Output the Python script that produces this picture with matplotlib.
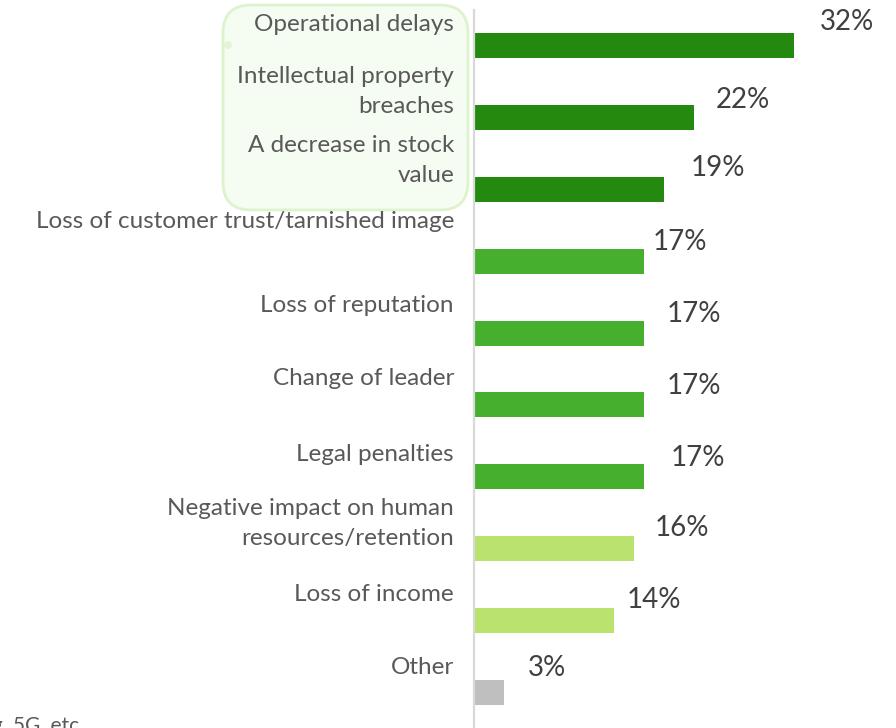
import matplotlib
matplotlib.use("Agg")
import matplotlib.pyplot as plt
from matplotlib.patches import FancyBboxPatch, Circle

# Survey responses: consequences of a cyber incident
categories = [
    "Operational delays",
    "Intellectual property\nbreaches",
    "A decrease in stock\nvalue",
    "Loss of customer trust/tarnished image",
    "Loss of reputation",
    "Change of leader",
    "Legal penalties",
    "Negative impact on human\nresources/retention",
    "Loss of income",
    "Other",
]
values = [32, 22, 19, 17, 17, 17, 17, 16, 14, 3]
value_labels = ["32%", "22%", "19%", "17%", "17%", "17%", "17%", "16%", "14%", "3%"]
groups = ["top", "top", "top", "mid", "mid", "mid", "mid", "low", "low", "other"]

palette = {"top": "#248A0F", "mid": "#46B02E", "low": "#B9E36E", "other": "#BFBFBF"}

# label placement tweaks (pixels)
value_dx = [26, 22, 27, 9, 23, 23, 27, 21, 13, 24]
value_dy = [24, 18, 22, 19, 19, 19, 19, 20, 20, 24]
cat_dy = [21, 26, 29, 40, 28, 26, 22, 25, 26, 25]

W, H = 896, 728
fig = plt.figure(figsize=(W / 100, H / 100), dpi=100)
plt.rcParams["font.family"] = ["Lato", "DejaVu Sans"]

# highlight box around the top three categories (pixel coordinates)
box = FancyBboxPatch((223, H - 210), 245, 205,
                     boxstyle="round,pad=0,rounding_size=28",
                     transform=None, facecolor="#F5FCF1",
                     edgecolor="#DDF3CD", linewidth=2.0, zorder=-1)
fig.patches.append(box)
handle = Circle((228, H - 45), 4, transform=None, facecolor="#E3F5D6",
                edgecolor="none", zorder=-1)
fig.patches.append(handle)

ax = fig.add_axes([474 / W, 0, (W - 474) / W, 1 - 10 / H])
ax.set_zorder(1)
ax.set_xlim(0, (W - 474) / 10.0)
ax.set_ylim(9.5, -0.5)

ypos = list(range(len(categories)))
ax.barh(ypos, values, height=0.35,
        color=[palette[g] for g in groups], zorder=2)

for spine in ["top", "right", "bottom"]:
    ax.spines[spine].set_visible(False)
ax.spines["left"].set_color("#D9D9D9")
ax.spines["left"].set_linewidth(1.6)
ax.set_xticks([])
ax.set_yticks([])
ax.patch.set_alpha(0)

for y, cat, dy in zip(ypos, categories, cat_dy):
    ax.annotate(cat, xy=(0, y), xytext=(-20, dy), textcoords="offset pixels",
                ha="right", va="center", fontsize=17.5, color="#595959",
                linespacing=1.5, annotation_clip=False)

for y, v, lab, dx, dy in zip(ypos, values, value_labels, value_dx, value_dy):
    ax.annotate(lab, xy=(v, y), xytext=(dx, dy), textcoords="offset pixels",
                ha="left", va="center", fontsize=20, color="#404040",
                annotation_clip=False)

fig.text(84 / W, 1 - 716 / H, "cloud computing, 5G, etc.", ha="right", va="top",
         fontsize=15, color="#595959")

fig.savefig("out.png", dpi=100)
